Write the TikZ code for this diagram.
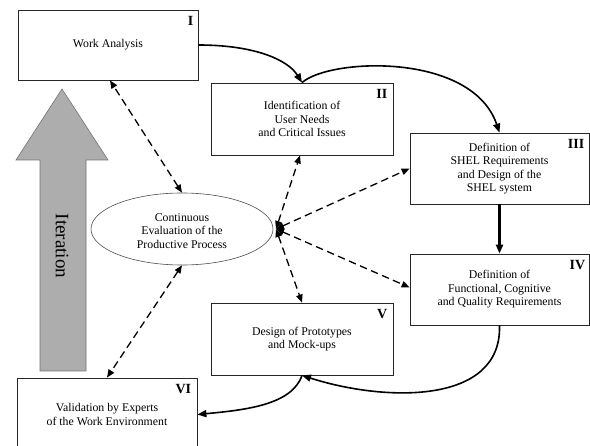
\documentclass[tikz,border=0pt]{standalone}
\usepackage{fontspec}
\setmainfont{Liberation Serif}
\usetikzlibrary{arrows.meta,shapes.geometric,calc}
\begin{document}
\begin{tikzpicture}[x=1pt,y=-1pt,
  txt/.style={font=\fontsize{11.8}{13.5}\selectfont, align=center},
  stage/.style={draw=black!85, line width=0.8pt, inner sep=0pt, txt},
  numeral/.style={font=\fontsize{14}{14}\selectfont\bfseries, inner sep=0pt, anchor=north east},
  flow/.style={line width=1.6pt, -{Triangle[length=9pt,width=7pt]}},
  evalline/.style={line width=1.3pt, dash pattern=on 7.5pt off 4.5pt,
    {Triangle[length=8pt,width=6.5pt]}-{Triangle[length=8pt,width=6.5pt]}}]
\useasboundingbox (0,0) rectangle (590,446);
\clip (0,0) rectangle (590,446);
% iteration arrow
\filldraw[fill=black!32, draw=black!55, line width=0.6pt]
  (40,371) -- (40,160) -- (16,160) -- (62,89) -- (108,160) -- (86,160) -- (86,371) -- cycle;
\node[rotate=-90, font=\fontsize{19}{19}\selectfont] (iter) at (62,246) {Iteration};
% stages
\node[stage, minimum width=180pt, minimum height=70pt] (I) at (108,45) {Work Analysis};
\node[stage, minimum width=182pt, minimum height=72pt] (II) at (302,119) {Identification of\\User Needs\\and Critical Issues};
\node[stage, minimum width=179pt, minimum height=71pt] (III) at (499.5,168.5) {Definition of\\SHEL Requirements\\and Design of the\\SHEL system};
\node[stage, minimum width=179pt, minimum height=71pt] (IV) at (499.5,289.5) {Definition of\\Functional, Cognitive\\and Quality Requirements};
\node[stage, minimum width=182pt, minimum height=72pt] (V) at (302,339) {Design of Prototypes\\and Mock-ups};
\node[stage, minimum width=180pt, minimum height=73pt] (VI) at (107,414.5) {Validation by Experts\\of the Work Environment};
\node[numeral] (nI) at ($(I.north east)+(-5,7)$) {I};
\node[numeral] (nII) at ($(II.north east)+(-6,7)$) {II};
\node[numeral] (nIII) at ($(III.north east)+(-5,7)$) {III};
\node[numeral] (nIV) at ($(IV.north east)+(-4,7)$) {IV};
\node[numeral] (nV) at ($(V.north east)+(-6,7)$) {V};
\node[numeral] (nVI) at ($(VI.north east)+(-6,7)$) {VI};
% evaluation ellipse
\node[ellipse, draw=black!70, line width=0.6pt, minimum width=182pt, minimum height=72pt, inner sep=0pt] (E) at (182,229) {};
\node[txt] (Et) at (182,231) {Continuous\\Evaluation of the\\Productive Process};
\coordinate (hub) at (276,229);
% solid flow
\draw[flow] (I.east) .. controls (255,45) and (288,60) .. (II.north);
\draw[flow] (II.north) .. controls (330,58) and (472,52) .. (III.north);
\draw[flow, line width=2.6pt] (III.south) -- (IV.north);
\draw[flow] (IV.south) .. controls (502,405) and (385,402) .. (V.south);
\draw[flow] (V.south) .. controls (292,405) and (245,410) .. (VI.east);
% dashed evaluation links
\draw[evalline] (E.north) -- ($(I.south)+(2,0)$);
\draw[evalline] (E.south) -- (VI.north);
\draw[evalline] (hub) -- ($(II.south)+(-2,0)$);
\draw[evalline] (hub) -- (III.west);
\draw[evalline] (hub) -- ($(IV.west)+(0,-2)$);
\draw[evalline] (hub) -- (V.north);
\end{tikzpicture}
\end{document}
